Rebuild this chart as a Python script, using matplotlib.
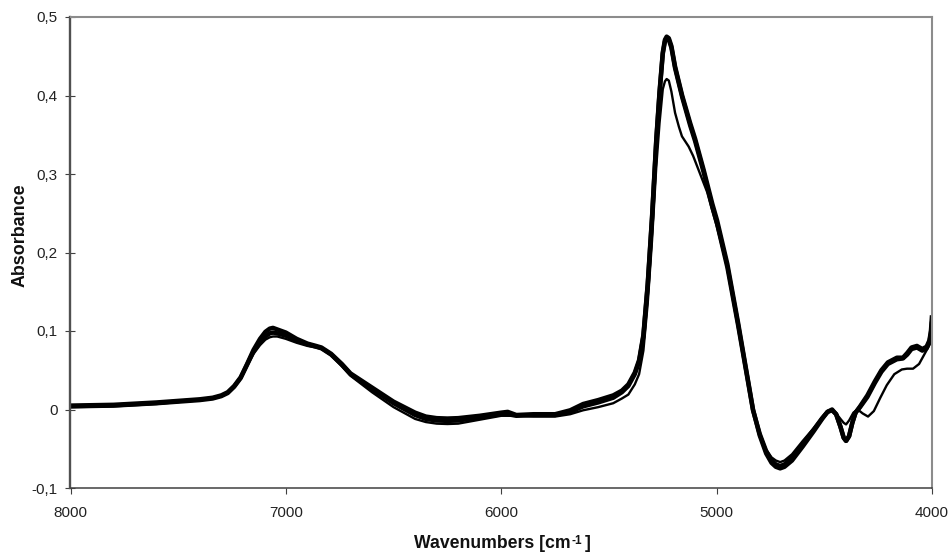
import matplotlib
matplotlib.use("Agg")
import matplotlib.pyplot as plt

wn_a = [8000,7800,7600,7400,7340,7300,7270,7240,7210,7180,7150,7120,7095,7075,7060,7040,7000,6950,6900,6860,6835,6790,6740,6700,6600,6500,6400,6350,6300,6250,6200,6100,6000,5970,5930,5850,5750,5680,5620,5550,5480,5440,5410,5380,5360,5340,5320,5300,5280,5265,5250,5240,5232,5222,5210,5193,5160,5123,5100,5060,5020,4998,4950,4900,4831,4800,4770,4745,4725,4705,4685,4650,4600,4550,4510,4485,4464,4445,4425,4410,4399,4385,4370,4355,4334,4300,4265,4235,4205,4163,4135,4115,4095,4070,4045,4025,4012,4005,4000]
abs_a = [.005,.006,.009,.013,.015,.018,.022,.030,.041,.058,.076,.090,.099,.103,.104,.102,.098,.090,.084,.081,.079,.071,.058,.046,.028,.010,-.004,-.009,-.011,-.0115,-.011,-.008,-.004,-.003,-.007,-.006,-.006,-.001,.007,.012,.018,.024,.032,.047,.063,.095,.160,.245,.345,.405,.455,.471,.475,.473,.463,.437,.400,.365,.345,.305,.262,.241,.185,.110,.000,-.033,-.056,-.068,-.073,-.075,-.073,-.065,-.047,-.028,-.012,-.003,.000,-.006,-.022,-.036,-.040,-.034,-.017,-.004,.004,.018,.036,.050,.060,.066,.066,.072,.079,.081,.077,.080,.088,.100,.120]

wn_b = wn_a
abs_b = [.004,.005,.008,.012,.014,.017,.021,.029,.040,.057,.074,.086,.093,.097,.098,.097,.094,.088,.083,.080,.078,.070,.057,.045,.026,.008,-.007,-.012,-.014,-.0145,-.014,-.010,-.006,-.006,-.008,-.007,-.007,-.003,.004,.009,.015,.022,.030,.045,.061,.093,.158,.243,.343,.403,.453,.469,.473,.471,.461,.435,.398,.362,.342,.302,.258,.237,.181,.107,-.001,-.031,-.053,-.065,-.070,-.072,-.070,-.061,-.044,-.026,-.011,-.003,-.001,-.006,-.022,-.036,-.040,-.034,-.017,-.004,.003,.016,.034,.048,.058,.064,.065,.070,.077,.079,.075,.078,.086,.097,.112]

wn_c = [8000,7800,7600,7400,7340,7300,7270,7240,7210,7180,7150,7120,7095,7075,7060,7040,7000,6950,6900,6860,6835,6790,6740,6700,6600,6500,6400,6350,6300,6250,6200,6100,6000,5950,5850,5750,5680,5620,5550,5480,5440,5410,5380,5360,5340,5320,5300,5280,5265,5250,5240,5232,5222,5210,5193,5175,5161,5130,5109,5044,4998,4950,4900,4831,4800,4770,4745,4725,4705,4685,4650,4600,4550,4510,4485,4464,4445,4425,4410,4399,4385,4365,4345,4322,4297,4270,4240,4210,4175,4140,4116,4088,4060,4040,4020,4005,4000]
abs_c = [.003,.004,.007,.012,.014,.017,.021,.029,.040,.056,.071,.082,.089,.092,.093,.093,.090,.085,.081,.079,.077,.069,.055,.043,.022,.003,-.012,-.016,-.018,-.0185,-.018,-.013,-.008,-.008,-.009,-.009,-.006,-.001,.003,.008,.014,.019,.032,.045,.075,.135,.215,.310,.365,.408,.418,.421,.419,.405,.378,.360,.348,.335,.323,.277,.232,.180,.107,.000,-.030,-.051,-.061,-.065,-.067,-.065,-.057,-.040,-.024,-.010,-.002,.000,-.005,-.012,-.017,-.019,-.014,-.004,.000,-.005,-.009,-.002,.015,.031,.045,.051,.052,.052,.058,.068,.078,.086,.095]

xticks = [8000,7000,6000,5000,4000]
xticklabels = ["8000","7000","6000","5000","4000"]
yticks = [-.1,0,.1,.2,.3,.4,.5]
yticklabels = ["-0,1","0","0,1","0,2","0,3","0,4","0,5"]

plt.rcParams["font.family"] = ["Liberation Sans", "DejaVu Sans"]

W, H = 953, 555
fig = plt.figure(figsize=(W/100, H/100), dpi=100)
ax = fig.add_axes([70.5/W, 1-488/H, 861.5/W, 471/H])

for x, y, lw in [(wn_c, abs_c, 1.7), (wn_b, abs_b, 3.2), (wn_a, abs_a, 3.2)]:
    ax.plot(x, y, color="black", lw=lw, solid_joinstyle="round", solid_capstyle="butt")

ax.set_xlim(8000, 4000)
ax.set_ylim(-.1, .5)
ax.set_xticks(xticks, xticklabels)
ax.set_yticks(yticks, yticklabels)
ax.tick_params(axis="x", labelsize=11, length=4, width=0.8, color="#404040", direction="out", labelcolor="#222222", pad=9)
ax.tick_params(axis="y", labelsize=11, length=7, width=0.8, color="#404040", direction="inout", labelcolor="#222222", pad=5.5)
ax.spines["left"].set_color("#505050"); ax.spines["left"].set_linewidth(1.7)
ax.spines["bottom"].set_color("#404040"); ax.spines["bottom"].set_linewidth(1.1)
for s in ["top", "right"]:
    ax.spines[s].set_color("#8c8c8c"); ax.spines[s].set_linewidth(1.5)

fig.text(414.5/W, 1-548/H, "Wavenumbers [cm", ha="left", va="baseline", fontsize=12.7, fontweight="bold", color="#111111")
fig.text(572/W, 1-544/H, "-1", ha="left", va="baseline", fontsize=8.5, fontweight="bold", color="#111111")
fig.text(584.5/W, 1-548/H, "]", ha="left", va="baseline", fontsize=12.7, fontweight="bold", color="#111111")
fig.text(20/W, 1-235.5/H, "Absorbance", rotation=90, ha="center", va="center", fontsize=12.9, fontweight="bold", color="#111111")

fig.savefig("out.png", dpi=100)
